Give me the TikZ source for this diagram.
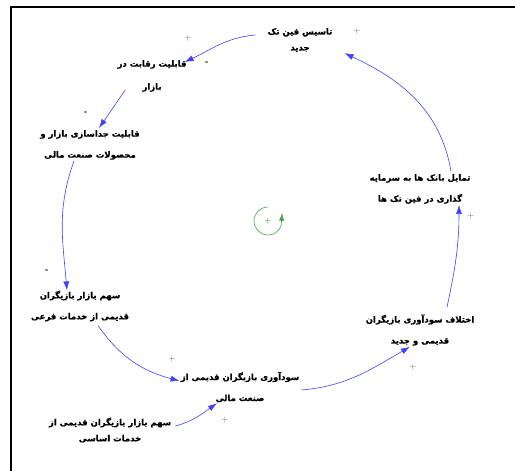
\documentclass[tikz,border=0pt]{standalone}
\usepackage{fontspec}
\usetikzlibrary{arrows.meta}
\newfontfamily\arabicfont[Script=Arabic,BoldFeatures={FakeBold=0.6}]{DejaVu Sans}
\TeXXeTstate=1
\definecolor{lBlue}{RGB}{30,30,255}
\definecolor{lGreen}{RGB}{20,140,20}
\definecolor{sGray}{RGB}{100,100,100}
\tikzset{
  var/.style={align=center, font=\arabicfont\bfseries\fontsize{8.5}{21}\selectfont,
              inner sep=2pt},
  tight/.style={font=\arabicfont\bfseries\fontsize{8.5}{16}\selectfont},
  loose/.style={font=\arabicfont\bfseries\fontsize{8.5}{23}\selectfont},
  link/.style={-{Latex[length=9pt,width=6pt]}, draw=lBlue!85, line width=0.6pt},
  pol/.style={font=\small, text=sGray, inner sep=0pt},
  frame/.style={line width=2pt, draw=black},
}
\newcommand{\fa}[1]{\beginR #1\endR}
\newcommand{\negsign}{\textcolor{black}{\textbf{-}}}

\begin{document}
\begin{tikzpicture}[x=1pt,y=1pt]
  \useasboundingbox (0,0) rectangle (515,-471);
  \draw[frame] (11,-471) -- (11,-7) -- (515,-7);
  % variables
  \node[var, tight] (tasis) at (300,-40) {\fa{تاسیس فین تک}\\\fa{جدید}};
  \node[var, loose] (reqabat) at (152,-76) {\fa{قابلیت رقابت در}\\\fa{بازار}};
  \node[var] (joda) at (90,-145) {\fa{قابلیت جداسازی بازار و}\\\fa{محصولات صنعت مالی}};
  \node[var] (farei) at (80,-306) {\fa{سهم بازار بازیگران}\\\fa{قدیمی از خدمات فرعی}};
  \node[var] (sood) at (240,-387) {\fa{سودآوری بازیگران قدیمی از}\\\fa{صنعت مالی}};
  \node[var, tight] (asasi) at (110,-430) {\fa{سهم بازار بازیگران قدیمی از}\\\fa{خدمات اساسی}};
  \node[var] (ekhtelaf) at (420,-330) {\fa{اختلاف سودآوری بازیگران}\\\fa{قدیمی و جدید}};
  \node[var] (tamayol) at (420,-189) {\fa{تمایل بانک ها به سرمایه}\\\fa{گذاری در فین تک ها}};
  % links
  \draw[link] ([xshift=-10pt,yshift=5pt]tasis.west) to[out=185,in=25] ([xshift=-4pt,yshift=-4pt]reqabat.north east);
  \draw[link] ([xshift=10pt,yshift=4pt]reqabat.south west) to[out=235,in=55] ([xshift=9pt]joda.north);
  \draw[link] ([xshift=-16pt,yshift=1pt]joda.south) to[out=250,in=95] ([xshift=-13pt,yshift=-2pt]farei.north);
  \draw[link] ([xshift=18pt,yshift=-2pt]farei.south) to[out=-55,in=165] ([xshift=1pt,yshift=6pt]sood.west);
  \draw[link] ([xshift=2pt,yshift=4pt]asasi.east) to[out=15,in=215] ([xshift=-23pt,yshift=1pt]sood.south);
  \draw[link] ([yshift=-3pt]sood.east) to[out=5,in=210] ([xshift=-10pt,yshift=1pt]ekhtelaf.south);
  \draw[link] ([xshift=27pt,yshift=5pt]ekhtelaf.north) to[out=78,in=270] ([xshift=39pt,yshift=1pt]tamayol.south);
  \draw[link] ([xshift=31pt,yshift=1pt]tamayol.north) to[out=100,in=335] ([xshift=10pt,yshift=1pt]tasis.south east);
  % polarities
  \foreach \sx/\sy/\sg [count=\i] in {357/31/+, 188/38/+, 207/63/\negsign, 86/113/\negsign, 47/271/\negsign,
                                      172/359/+, 225/420/+, 413/367/+, 471/216/+}
    \node[pol] (pol\i) at (\sx,-\sy) {\sg};
  % loop symbol
  \node[pol, text=lGreen] (loop) at (268,-221) {+};
  \draw[lGreen!80, line width=0.6pt, -{Latex[length=8pt,width=5pt]}]
    ([shift={(90:14)}]loop.center) arc[start angle=90, end angle=340, radius=14]
    -- ++(1,13);
\end{tikzpicture}
\end{document}
